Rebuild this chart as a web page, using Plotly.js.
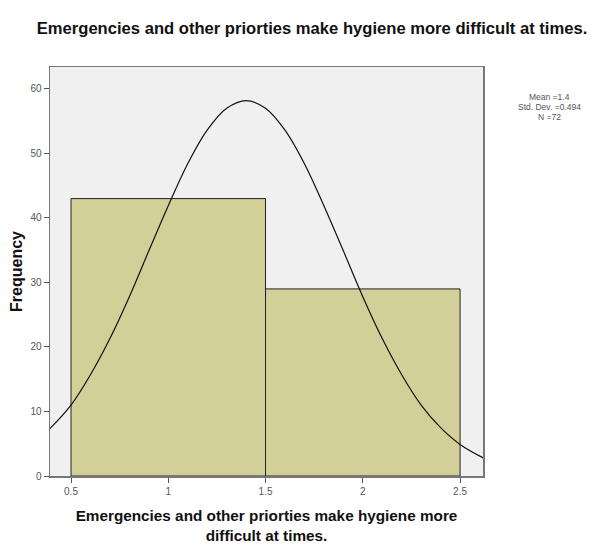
<!DOCTYPE html>
<html>
<head>
<meta charset="utf-8">
<script src="https://cdn.plot.ly/plotly-3.0.1.min.js"></script>
<style>html,body{margin:0;padding:0;background:#fff;}#chart{width:596px;height:548px;}</style>
</head>
<body>
<div id="chart"></div>
<script>
// Histogram bins (centres) and frequencies
const binCenters = [1, 2];
const frequencies = [43, 29];

// Normal curve points
const curveX = [0.39, 0.5, 0.6, 0.7, 0.8, 0.9, 1.0, 1.1, 1.2, 1.3, 1.4, 1.5, 1.6, 1.7, 1.8, 1.9, 2.0, 2.1, 2.2, 2.3, 2.4, 2.5, 2.62];
const curveY = [7.3, 11.0, 15.7, 21.3, 27.8, 34.9, 41.9, 48.4, 53.6, 57.0, 58.2, 57.0, 53.6, 48.4, 41.9, 34.9, 27.8, 21.3, 15.7, 11.0, 7.5, 4.9, 2.8];

// Tick labels
const xTickVals = [0.5, 1, 1.5, 2, 2.5];
const xTickText = ["0.5", "1", "1.5", "2", "2.5"];
const yTickVals = [0, 10, 20, 30, 40, 50, 60];

const statsLines = ["Mean =1.4", "Std. Dev. =0.494", "N =72"];

const titleText = "Emergencies and other priorties make hygiene more difficult at times.";
const xTitleText = "Emergencies and other priorties make hygiene more<br>difficult at times.";

const traces = [
  {
    type: "bar",
    x: binCenters,
    y: frequencies,
    width: 1,
    marker: {color: "#d3cf99", line: {color: "#222", width: 1}},
    hoverinfo: "skip"
  },
  {
    type: "scatter",
    mode: "lines",
    x: curveX,
    y: curveY,
    line: {color: "#111", width: 1.2, shape: "spline"},
    hoverinfo: "skip"
  }
];

const layout = {
  width: 596,
  height: 548,
  margin: {l: 50, r: 113, t: 67, b: 72},
  paper_bgcolor: "#ffffff",
  plot_bgcolor: "#f0f0f0",
  showlegend: false,
  bargap: 0,
  font: {family: "Liberation Sans, Arial, sans-serif", color: "#333"},
  title: {
    text: titleText,
    font: {family: "Liberation Sans, Arial, sans-serif", size: 16.6, color: "#111", weight: "bold"},
    x: 312 / 596, xanchor: "center", xref: "container",
    y: 1 - 28 / 548, yanchor: "middle"
  },
  xaxis: {
    range: [0.392, 2.618],
    tickvals: xTickVals,
    ticktext: xTickText,
    ticks: "outside",
    ticklen: 5,
    tickcolor: "#555",
    tickfont: {size: 10, color: "#555"},
    showgrid: false,
    zeroline: false,
    showline: true,
    linecolor: "#777",
    linewidth: 1.5,
    mirror: true,
    title: {
      text: xTitleText,
      font: {size: 15.3, color: "#111", weight: "bold"},
      standoff: 15
    }
  },
  yaxis: {
    range: [0, 63.4],
    tickvals: yTickVals,
    ticks: "outside",
    ticklen: 5,
    tickcolor: "#555",
    tickfont: {size: 10, color: "#555"},
    showgrid: false,
    zeroline: false,
    showline: true,
    linecolor: "#777",
    linewidth: 1.5,
    mirror: true,
    title: {
      text: "Frequency",
      font: {size: 16, color: "#111", weight: "bold"},
      standoff: 4
    }
  },
  annotations: [
    {
      xref: "paper", yref: "paper",
      x: 1.0 + (549 - 483) / 433, y: (476 - 97) / 409,
      xanchor: "center", yanchor: "middle",
      text: statsLines[0], showarrow: false,
      font: {size: 8.5, color: "#555"}
    },
    {
      xref: "paper", yref: "paper",
      x: 1.0 + (549 - 483) / 433, y: (476 - 107) / 409,
      xanchor: "center", yanchor: "middle",
      text: statsLines[1], showarrow: false,
      font: {size: 8.5, color: "#555"}
    },
    {
      xref: "paper", yref: "paper",
      x: 1.0 + (549 - 483) / 433, y: (476 - 117) / 409,
      xanchor: "center", yanchor: "middle",
      text: statsLines[2], showarrow: false,
      font: {size: 8.5, color: "#555"}
    }
  ]
};

Plotly.newPlot("chart", traces, layout, {displayModeBar: false, staticPlot: true});
</script>
</body>
</html>
